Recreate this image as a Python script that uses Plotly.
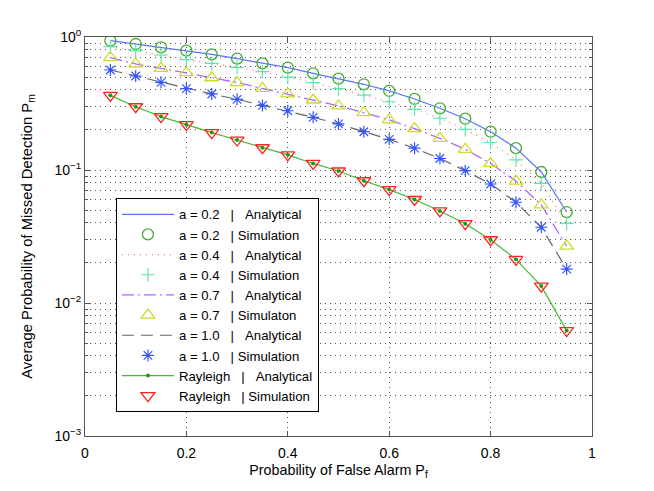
import plotly.graph_objects as go

# probability of false alarm
pf = [0.05, 0.10, 0.15, 0.20, 0.25, 0.30, 0.35, 0.40, 0.45, 0.50,
      0.55, 0.60, 0.65, 0.70, 0.75, 0.80, 0.85, 0.90, 0.95]

# average probability of missed detection
pm_a02 = [0.938, 0.886, 0.836, 0.789, 0.741, 0.687, 0.634, 0.588, 0.533, 0.486,
          0.441, 0.393, 0.342, 0.291, 0.243, 0.194, 0.146, 0.0966, 0.0483]
pm_a04 = [0.846, 0.789, 0.732, 0.675, 0.634, 0.592, 0.549, 0.500, 0.454, 0.409,
          0.366, 0.326, 0.286, 0.245, 0.202, 0.161, 0.119, 0.0794, 0.0397]
pm_a07 = [0.699, 0.627, 0.581, 0.539, 0.494, 0.454, 0.411, 0.373, 0.336, 0.303,
          0.270, 0.238, 0.205, 0.173, 0.143, 0.112, 0.0826, 0.0546, 0.0268]
pm_a10 = [0.565, 0.509, 0.456, 0.409, 0.373, 0.340, 0.306, 0.279, 0.249, 0.222,
          0.194, 0.170, 0.146, 0.122, 0.0989, 0.0785, 0.0572, 0.0371, 0.0180]
pm_ray = [0.364, 0.299, 0.252, 0.219, 0.191, 0.168, 0.147, 0.130, 0.112, 0.0983,
          0.083, 0.0712, 0.060, 0.0492, 0.0395, 0.0299, 0.0213, 0.0134, 0.0062]

y_tickvals = [1, 0.1, 0.01, 0.001]
y_ticktext = ['10<sup>0</sup>', '10<sup>\u22121</sup>', '10<sup>\u22122</sup>', '10<sup>\u22123</sup>']

sp = '\u00a0'
ana = sp*3 + '|' + sp*3 + 'Analytical'
sim = sp*3 + '|' + sp + 'Simulation'
names = [
    'a = 0.2' + ana, 'a = 0.2' + sim,
    'a = 0.4' + ana, 'a = 0.4' + sim,
    'a = 0.7' + ana, 'a = 0.7' + sp*3 + '|' + sp + 'Simulaton',
    'a = 1.0' + ana, 'a = 1.0' + sim,
    'Rayleigh' + ana, 'Rayleigh' + sim,
]

fig = go.Figure()

fig.add_trace(go.Scatter(x=pf, y=pm_a02, mode='lines', name=names[0],
                         line=dict(color='#5a74f5', width=1.2)))
fig.add_trace(go.Scatter(x=pf, y=pm_a02, mode='markers', name=names[1],
                         marker=dict(symbol='circle-open', size=11, color='#44aa33',
                                     line=dict(width=1.3))))
fig.add_trace(go.Scatter(x=pf, y=pm_a04, mode='lines', name=names[2],
                         line=dict(color='#ff7070', width=1.2, dash='1px,5px')))
fig.add_trace(go.Scatter(x=pf, y=pm_a04, mode='markers', name=names[3],
                         marker=dict(symbol='cross-thin-open', size=10, color='#5ee8a8',
                                     line=dict(width=1.2, color='#5ee8a8'))))
fig.add_trace(go.Scatter(x=pf, y=pm_a07, mode='lines', name=names[4],
                         line=dict(color='#b066ff', width=1.3, dash='12px,4px,2px,4px')))
fig.add_trace(go.Scatter(x=pf, y=pm_a07, mode='markers', name=names[5],
                         marker=dict(symbol='triangle-up-open', size=12, color='#ccdd22',
                                     line=dict(width=1.3))))
fig.add_trace(go.Scatter(x=pf, y=pm_a10, mode='lines', name=names[6],
                         line=dict(color='#666666', width=1.2, dash='12px,7px')))
fig.add_trace(go.Scatter(x=pf, y=pm_a10, mode='markers', name=names[7],
                         marker=dict(symbol='asterisk-open', size=10, color='#3355ff',
                                     line=dict(width=1.2, color='#3355ff'))))
fig.add_trace(go.Scatter(x=pf, y=pm_ray, mode='lines+markers', name=names[8],
                         line=dict(color='#44bb33', width=1.2),
                         marker=dict(symbol='circle', size=4, color='#229911')))
fig.add_trace(go.Scatter(x=pf, y=pm_ray, mode='markers', name=names[9],
                         marker=dict(symbol='triangle-down-open', size=12, color='#ff2222',
                                     line=dict(width=1.3))))

grid = dict(gridcolor='#555555', griddash='1px,4px', gridwidth=1)

fig.update_layout(
    width=646, height=483,
    margin=dict(l=77, r=62, t=29, b=55),
    paper_bgcolor='white', plot_bgcolor='white',
    font=dict(family='Liberation Sans, Arial, sans-serif', size=14, color='black'),
    showlegend=True,
    legend=dict(x=0.061, y=0.596, xanchor='left', yanchor='top',
                bgcolor='white', bordercolor='black', borderwidth=1,
                font=dict(size=13.2), itemwidth=52),
    xaxis=dict(range=[0, 1], dtick=0.2, showgrid=True, **grid,
               zeroline=False, showline=True, linecolor='#555555', linewidth=1,
               mirror='ticks', ticks='inside', ticklen=5, tickcolor='#555555',
               ticklabelstandoff=4,
               title=dict(text='Probability of False Alarm P<sub>f</sub>',
                          font=dict(size=14.3), standoff=5)),
    yaxis=dict(type='log', range=[-3, 0], tickmode='array',
               tickvals=y_tickvals, ticktext=y_ticktext, showgrid=True, **grid,
               zeroline=False, showline=True, linecolor='#555555', linewidth=1,
               mirror='ticks', ticks='inside', ticklen=5, tickcolor='#555555',
               minor=dict(dtick='D1', showgrid=True, gridcolor='#555555',
                          griddash='1px,4px', ticks='inside', ticklen=3,
                          tickcolor='#555555'),
               title=dict(text='Average Probability of Missed Detection P<sub>m</sub>',
                          font=dict(size=14.8), standoff=18)),
)

fig.write_html('out.html')
